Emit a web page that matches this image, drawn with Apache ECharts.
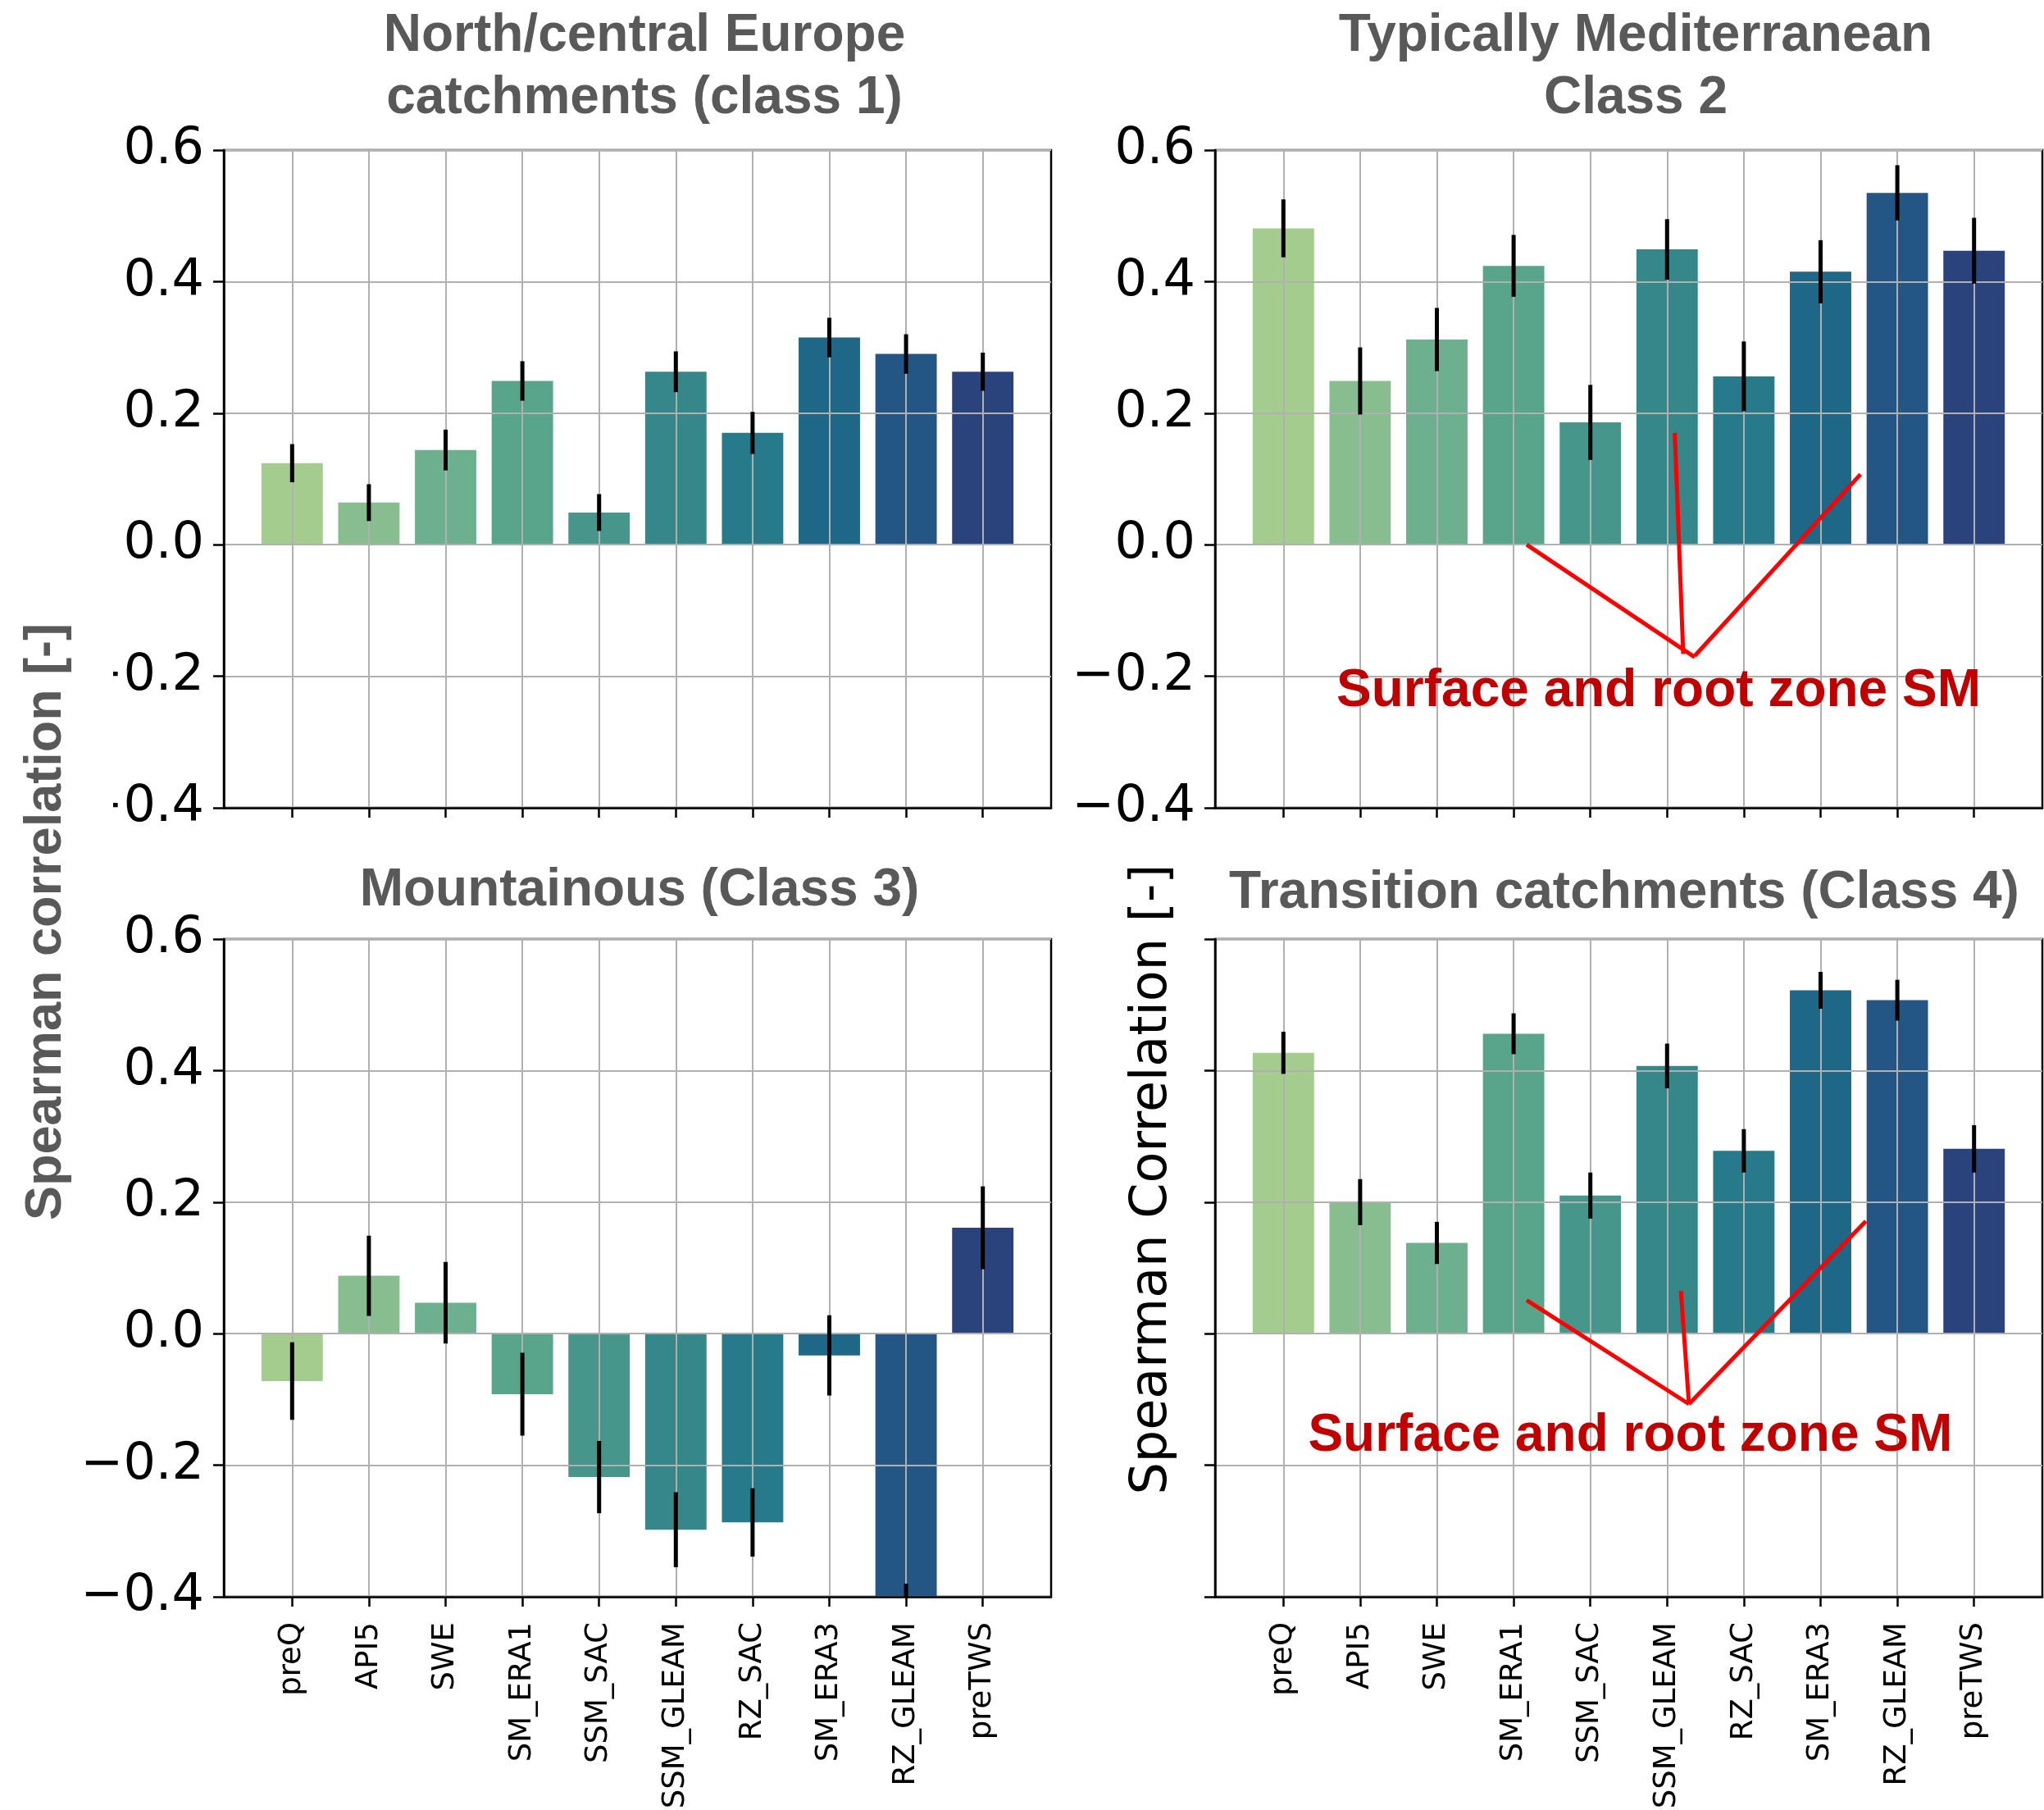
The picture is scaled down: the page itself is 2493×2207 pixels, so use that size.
<!DOCTYPE html>
<html>
<head>
<meta charset="utf-8">
<script src="https://cdn.jsdelivr.net/npm/echarts@6.0.0/dist/echarts.min.js"></script>
<style>
  html, body { margin: 0; padding: 0; background: #fff; }
  #chart { width: 2493px; height: 2207px; }
</style>
</head>
<body>
<div id="chart"></div>
<script>
// predictors, same order in every panel
const categories = ['preQ', 'API5', 'SWE', 'SM_ERA1', 'SSM_SAC', 'SSM_GLEAM', 'RZ_SAC', 'SM_ERA3', 'RZ_GLEAM', 'preTWS']

// mean spearman correlation and error bar half length, per class
const class1Values = [0.124, 0.064, 0.144, 0.249, 0.049, 0.263, 0.170, 0.315, 0.290, 0.263]
const class1Errors = [0.029, 0.028, 0.031, 0.030, 0.028, 0.031, 0.032, 0.030, 0.030, 0.029]
const class2Values = [0.481, 0.249, 0.312, 0.424, 0.186, 0.449, 0.256, 0.415, 0.535, 0.447]
const class2Errors = [0.044, 0.051, 0.048, 0.047, 0.057, 0.046, 0.053, 0.048, 0.042, 0.050]
const class3Values = [-0.072, 0.088, 0.047, -0.092, -0.218, -0.298, -0.287, -0.033, -0.440, 0.161]
const class3Errors = [0.059, 0.061, 0.062, 0.063, 0.055, 0.057, 0.052, 0.061, 0.060, 0.063]
const class4Values = [0.427, 0.200, 0.138, 0.456, 0.210, 0.407, 0.278, 0.522, 0.507, 0.281]
const class4Errors = [0.032, 0.035, 0.032, 0.031, 0.035, 0.034, 0.033, 0.028, 0.031, 0.036]

const panelTitles = [
  'North/central Europe\ncatchments (class 1)',
  'Typically Mediterranean\nClass 2',
  'Mountainous (Class 3)',
  'Transition catchments (Class 4)'
]

// y axis ticks
const yMin = -0.4
const yMax = 0.6
const yStep = 0.2

const barColors = ['#a4cc8e', '#88bd90', '#6db08f', '#58a58c', '#47968b', '#358789', '#267a89', '#1f6787', '#245685', '#2b437c']

// annotation "Surface and root zone SM" (data coords of panel 2 and panel 4)
const annotationText = 'Surface and root zone SM'
const class2Arrows = [[[3.17, 0.0], [5.36, -0.171]], [[5.10, 0.170], [5.21, -0.166]], [[7.52, 0.107], [5.36, -0.169]]]
const class2TextAt = [4.89, -0.223]
const class4Arrows = [[[3.17, 0.051], [5.285, -0.107]], [[5.18, 0.065], [5.285, -0.107]], [[7.59, 0.171], [5.285, -0.107]]]
const class4TextAt = [4.52, -0.156]

const tickPos = categories.map((c, i) => i)

const panels = [
  { values: class1Values, errors: class1Errors, left: 273, top: 183, showX: false, showY: true },
  { values: class2Values, errors: class2Errors, left: 1482, top: 183, showX: false, showY: true, arrows: class2Arrows, textAt: class2TextAt },
  { values: class3Values, errors: class3Errors, left: 273, top: 1145, showX: true, showY: true },
  { values: class4Values, errors: class4Errors, left: 1482, top: 1145, showX: true, showY: false, arrows: class4Arrows, textAt: class4TextAt }
]
const titlePos = [[781, 1], [1990, 1], [775, 1043], [1976, 1046]]

const black = { color: '#000', width: 2.5 }
const gridLine = { color: '#b0b0b0', width: 2 }

function renderBar(params, api) {
  const x = api.value(0)
  const v = api.value(1)
  const w = api.size([0.8, 0])[0]
  const p0 = api.coord([x, 0])
  const p1 = api.coord([x, v])
  const cs = params.coordSys
  const y1 = Math.max(Math.min(p0[1], p1[1]), cs.y)
  const y2 = Math.min(Math.max(p0[1], p1[1]), cs.y + cs.height)
  return {
    type: 'rect',
    shape: { x: p0[0] - w / 2, y: y1, width: w, height: y2 - y1 },
    style: { fill: barColors[params.dataIndex] }
  }
}

function renderErr(params, api) {
  const x = api.value(0)
  const v = api.value(1)
  const e = api.value(2)
  const a = api.coord([x, v + e])
  const b = api.coord([x, v - e])
  const cs = params.coordSys
  return {
    type: 'line',
    shape: { x1: a[0], y1: Math.max(a[1], cs.y), x2: b[0], y2: Math.min(b[1], cs.y + cs.height) },
    style: { stroke: '#000', lineWidth: 5 }
  }
}

const chart = echarts.init(document.getElementById('chart'), null, { renderer: 'canvas' })

const option = {
  backgroundColor: '#fff',
  animation: false,
  title: panelTitles.map((t, i) => ({
    text: t,
    left: titlePos[i][0],
    top: titlePos[i][1],
    textAlign: 'center',
    textStyle: { fontFamily: 'Liberation Sans', fontWeight: 'bold', fontSize: 64, lineHeight: 76, color: '#595959' }
  })),
  grid: panels.map(p => ({
    left: p.left, top: p.top, width: 1009, height: 802,
    containLabel: false, outerBoundsMode: 'none',
    show: true, borderColor: '#000', borderWidth: 2.5, backgroundColor: 'transparent'
  })),
  xAxis: panels.map((p, i) => ({
    type: 'value', gridIndex: i, min: -0.89, max: 9.89, z: 3,
    axisLine: { show: true, onZero: false, lineStyle: black },
    axisTick: { show: true, length: 12, customValues: tickPos, lineStyle: black },
    axisLabel: {
      show: p.showX, customValues: tickPos, rotate: 90, margin: 31,
      fontSize: 37, fontFamily: 'DejaVu Sans', color: '#000',
      formatter: v => categories[Math.round(v)]
    },
    splitLine: { show: true, lineStyle: gridLine }
  })),
  yAxis: panels.map((p, i) => ({
    type: 'value', gridIndex: i, min: yMin, max: yMax, interval: yStep, z: 3,
    axisLine: { show: true, onZero: false, lineStyle: black },
    axisTick: { show: true, length: 13, lineStyle: black },
    axisLabel: {
      show: p.showY, margin: 24, fontSize: 62, fontFamily: 'DejaVu Sans', color: '#000',
      formatter: v => (Math.abs(v) < 1e-9 ? 0 : v).toFixed(1).replace('-', '\u2212')
    },
    splitLine: { show: true, lineStyle: gridLine }
  })),
  series: [],
  graphic: [
    // the figure was cropped here, only a dot of the minus signs is left
    { type: 'rect', z: 10, shape: { x: 0, y: 790, width: 138, height: 225 }, style: { fill: '#fff' } },
    {
      type: 'text', x: 57, y: 1124, rotation: Math.PI / 2, z: 11,
      style: {
        text: 'Spearman correlation [-]', fill: '#595959',
        fontSize: 63, fontWeight: 'bold', fontFamily: 'Liberation Sans',
        align: 'center', verticalAlign: 'middle'
      }
    },
    {
      type: 'text', x: 1406, y: 1438, rotation: Math.PI / 2, z: 11,
      style: {
        text: 'Spearman Correlation [-]', fill: '#000',
        fontSize: 62, fontFamily: 'DejaVu Sans',
        align: 'center', verticalAlign: 'middle'
      }
    }
  ]
}

panels.forEach((p, i) => {
  const data = p.values.map((v, k) => [k, v, p.errors[k]])
  option.series.push({
    type: 'custom', xAxisIndex: i, yAxisIndex: i, z: 1, silent: true,
    renderItem: renderBar, encode: { x: 0, y: 1 }, data: data
  })
  const err = {
    type: 'custom', xAxisIndex: i, yAxisIndex: i, z: 5, silent: true,
    renderItem: renderErr, encode: { x: 0, y: 1 }, data: data
  }
  if (p.arrows) {
    err.markLine = {
      silent: true, animation: false, symbol: ['none', 'none'],
      label: { show: false },
      lineStyle: { color: '#ff0000', width: 5, type: 'solid' },
      data: p.arrows.map(a => [{ coord: a[0] }, { coord: a[1] }])
    }
    err.markPoint = {
      silent: true, animation: false, symbol: 'circle', symbolSize: 1,
      itemStyle: { color: 'rgba(0,0,0,0)' },
      label: {
        show: true, position: 'inside', formatter: annotationText,
        color: '#c00000', fontSize: 64, fontWeight: 'bold', fontFamily: 'Liberation Sans'
      },
      data: [{ coord: p.textAt }]
    }
  }
  option.series.push(err)
})

chart.setOption(option)
</script>
</body>
</html>
